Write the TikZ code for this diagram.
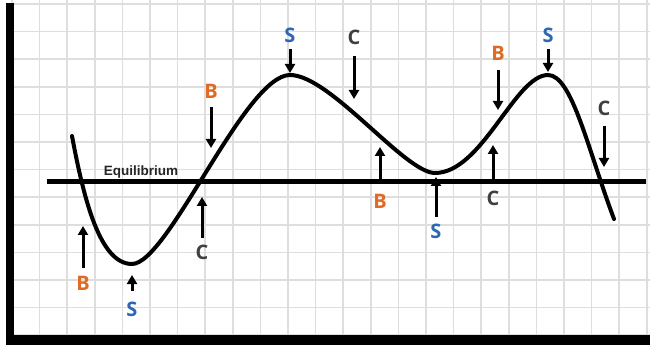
\documentclass[tikz,border=0pt]{standalone}
\usepackage{fontspec}
\setmainfont{Open Sans}
\newfontfamily\eqfont{Liberation Sans}
\usetikzlibrary{arrows.meta}
\definecolor{borange}{HTML}{E06A22}
\definecolor{sblue}{HTML}{2F66B3}
\definecolor{cgray}{HTML}{3F3F3F}
\definecolor{gridgray}{HTML}{DEDEDE}
\begin{document}
\begin{tikzpicture}[x=1pt,y=-1pt,
  lab/.style={font=\bfseries\fontsize{20}{20}\selectfont, inner sep=0pt},
  blab/.style={lab, text=borange},
  slab/.style={lab, text=sblue},
  clab/.style={lab, text=cgray},
  arr/.style={line width=3pt, -{Triangle[width=10pt,length=9pt]}},
  gridline/.style={gridgray, line width=1.5pt},
  curve/.style={line width=4pt, line cap=round},
  eqline/.style={line width=5pt}]
\useasboundingbox (0,0) rectangle (650,347);
\fill[white] (0,0) rectangle (650,347);
% grid
\foreach \i in {0,...,23} \draw[gridline] ({12+27.6*\i},0) -- ({12+27.6*\i},335);
\foreach \j in {0,...,12} \draw[gridline] (10,{4+27.6*\j}) -- (650,{4+27.6*\j});
% frame
\fill[black] (6,3) rectangle (14,345);
\fill[black] (6,335) rectangle (650,345);
% equilibrium
\coordinate (eqL) at (47,182);
\coordinate (eqR) at (646,182);
\draw[eqline] (eqL) -- (eqR);
\node[font=\eqfont\bfseries\fontsize{13.5}{13.5}\selectfont, text=black!85, inner sep=0pt] (eqlab) at (141,172) {Equilibrium};
% curve
\draw[curve] (72,136) .. controls (84,200) and (100,264) .. (132,264)
  .. controls (168,264) and (245,75) .. (290,75)
  .. controls (330,75) and (405,173) .. (435,173)
  .. controls (482,173) and (515,75) .. (548,75)
  .. controls (572,75) and (588,150) .. (614,219);
% labels
\node[blab] (B1) at (83,283) {B};
\node[slab] (S1) at (132,309) {S};
\node[clab] (C1) at (202,252) {C};
\node[blab] (B2) at (211,91) {B};
\node[slab] (S2) at (290,35) {S};
\node[clab] (C2) at (354,37) {C};
\node[blab] (B3) at (380,201) {B};
\node[slab] (S3) at (436,231) {S};
\node[clab] (C3) at (493,198) {C};
\node[blab] (B4) at (498,53) {B};
\node[slab] (S4) at (548,35) {S};
\node[clab] (C4) at (604,108) {C};
% arrow ends
\coordinate (b1a) at (83,268);  \coordinate (b1b) at (83,226);
\coordinate (s1a) at (132,291); \coordinate (s1b) at (132,275);
\coordinate (c1a) at (202,238); \coordinate (c1b) at (202,197);
\coordinate (b2a) at (211,107); \coordinate (b2b) at (211,148);
\coordinate (s2a) at (290,49);  \coordinate (s2b) at (290,73);
\coordinate (c2a) at (354,56);  \coordinate (c2b) at (354,99);
\coordinate (b3a) at (380,183); \coordinate (b3b) at (380,147);
\coordinate (s3a) at (436,217); \coordinate (s3b) at (436,177);
\coordinate (c3a) at (493,183); \coordinate (c3b) at (493,145);
\coordinate (b4a) at (498,70);  \coordinate (b4b) at (498,110);
\coordinate (s4a) at (548,49);  \coordinate (s4b) at (548,72);
\coordinate (c4a) at (604,126); \coordinate (c4b) at (604,167);
\foreach \p in {b1,s1,c1,b2,s2,c2,b3,s3,c3,b4,s4,c4}
  \draw[arr] (\p a) -- (\p b);
\end{tikzpicture}
\end{document}
